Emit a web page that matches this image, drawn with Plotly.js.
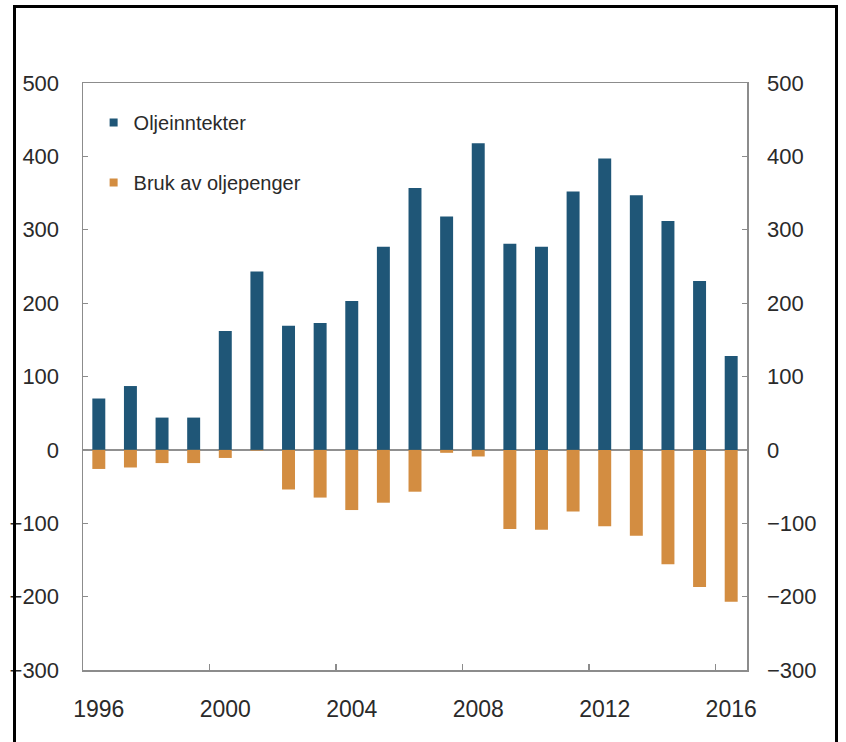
<!DOCTYPE html>
<html>
<head>
<meta charset="utf-8">
<script src="https://cdn.plot.ly/plotly-3.0.1.min.js"></script>
<style>
  html, body { margin: 0; padding: 0; background: #fff; }
  #chart { width: 846px; height: 742px; }
  #frame { position: absolute; left: 13px; top: 5px; width: 819px; height: 760px;
           border: 3px solid #000; border-bottom: none; pointer-events: none; }
</style>
</head>
<body>
<div id="chart"></div>
<div id="frame"></div>
<script>
// Data
const years = [1996, 1997, 1998, 1999, 2000, 2001, 2002, 2003, 2004, 2005, 2006,
               2007, 2008, 2009, 2010, 2011, 2012, 2013, 2014, 2015, 2016];
const oljeinntekter = [70, 87, 44, 44, 162, 243, 169, 173, 203, 277, 357,
                       318, 418, 281, 277, 352, 397, 347, 312, 230, 128];
const brukAvOljepenger = [-26, -24, -18, -18, -11, -1, -54, -65, -82, -72, -57,
                          -4, -9, -108, -109, -84, -104, -117, -156, -187, -207];
const seriesNames = ["Oljeinntekter", "Bruk av oljepenger"];
const xTickLabels = ["1996", "2000", "2004", "2008", "2012", "2016"];
const xLabelYears = [1996, 2000, 2004, 2008, 2012, 2016];
const xTickMarks = [1999.5, 2003.5, 2007.5, 2011.5, 2015.5];

const BLUE = "#1f5677";
const ORANGE = "#d38d41";
const TEXT = "#2a2a2a";
const AXIS = "#8c8c8c";

const traces = [
  { type: "bar", x: years, y: oljeinntekter, name: seriesNames[0],
    marker: { color: BLUE }, width: 0.41, showlegend: false, hoverinfo: "x+y" },
  { type: "bar", x: years, y: brukAvOljepenger, name: seriesNames[1],
    marker: { color: ORANGE }, width: 0.41, showlegend: false, hoverinfo: "x+y" },
  // legend entries
  { type: "scatter", mode: "markers", x: [null], y: [null], name: seriesNames[0],
    marker: { symbol: "square", size: 8, color: BLUE }, legendgroup: "a",
    xaxis: "x2", yaxis: "y2" },
  { type: "scatter", mode: "markers", x: [null], y: [null], name: seriesNames[1],
    marker: { symbol: "square", size: 8, color: ORANGE }, legendgroup: "b",
    xaxis: "x2", yaxis: "y2" }
];

const font = { family: "Liberation Sans, Arial, sans-serif", color: TEXT };

const layout = {
  width: 846, height: 742,
  margin: { l: 83, r: 99, t: 83, b: 72 },
  paper_bgcolor: "#fff", plot_bgcolor: "#fff",
  barmode: "relative",
  font: font,
  showlegend: true,
  legend: {
    x: 0.016, y: 0.966, xanchor: "left", yanchor: "top",
    bgcolor: "rgba(0,0,0,0)",
    font: { family: font.family, size: 20, color: TEXT },
    tracegroupgap: 31
  },
  xaxis: {
    range: [1995.5, 2016.5],
    tickvals: xLabelYears, ticktext: xTickLabels,
    ticks: "", showgrid: false, zeroline: false,
    showline: true, linecolor: AXIS, linewidth: 1.5, mirror: true,
    tickfont: { family: font.family, size: 23, color: TEXT },
    ticklabelstandoff: 18
  },
  xaxis2: {
    overlaying: "x", anchor: "y", side: "bottom",
    range: [1995.5, 2016.5],
    tickvals: xTickMarks, showticklabels: false,
    ticks: "inside", ticklen: 6, tickwidth: 1.2, tickcolor: AXIS,
    showgrid: false, zeroline: false, showline: false
  },
  yaxis: {
    range: [-300, 500], tickvals: [-300, -200, -100, 0, 100, 200, 300, 400, 500],
    ticks: "inside", ticklen: 5, tickwidth: 1.2, tickcolor: AXIS,
    showgrid: false,
    zeroline: true, zerolinecolor: "#909090", zerolinewidth: 1.5,
    showline: true, linecolor: AXIS, linewidth: 1.5, mirror: true,
    tickfont: { family: font.family, size: 22, color: TEXT },
    ticklabelstandoff: 18
  },
  yaxis2: {
    overlaying: "y", anchor: "x", side: "right",
    range: [-300, 500], tickvals: [-300, -200, -100, 0, 100, 200, 300, 400, 500],
    ticks: "inside", ticklen: 5, tickwidth: 1.2, tickcolor: AXIS,
    showgrid: false, zeroline: false, showline: false,
    tickfont: { family: font.family, size: 22, color: TEXT },
    ticklabelstandoff: 19
  }
};

Plotly.newPlot("chart", traces, layout, { displayModeBar: false, staticPlot: true });
</script>
</body>
</html>
